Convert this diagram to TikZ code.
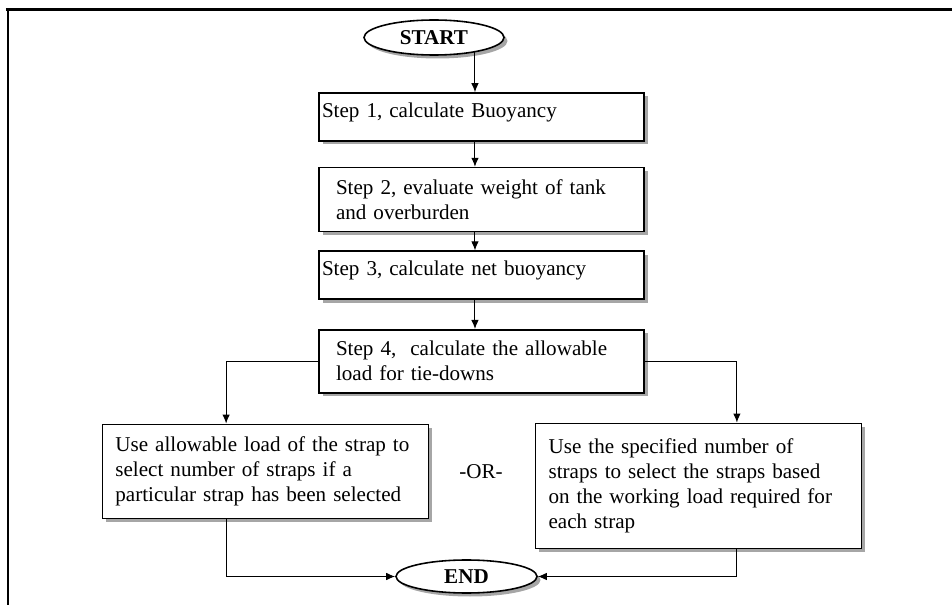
\documentclass[tikz,border=0pt]{standalone}
\usepackage{fontspec}
\setmainfont{Liberation Serif}
\usetikzlibrary{shapes.geometric, arrows.meta, positioning, calc, shadows}

\begin{document}
\begin{tikzpicture}[
    font=\fontsize{12}{14.2}\selectfont,
    boxshadow/.style={drop shadow={shadow xshift=0.07cm, shadow yshift=-0.07cm, fill=gray!70, opacity=1}},
    stepbox/.style={rectangle, draw, line width=0.9pt, fill=white, align=left, inner ysep=0pt, boxshadow},
    termnode/.style={ellipse, draw, line width=0.9pt, fill=white, inner sep=0pt, font=\fontsize{12}{14.2}\selectfont\bfseries, boxshadow},
    flow/.style={-{Latex[length=1.8mm, width=1.5mm]}, line width=0.55pt}]
    \useasboundingbox (0,0) rectangle (19.04,-12.1);

    % frame
    \draw[line width=1.7pt] (0.12,-0.19) -- (19.04,-0.19);
    \draw[line width=1.2pt] (0.165,-0.19) -- (0.165,-12.1);

    % main steps
    \node (start) [termnode, minimum width=2.8cm, minimum height=0.7cm] at (8.68,-0.75) {START};
    \node (step1) [stepbox, text width=6.38cm, inner xsep=0.06cm, minimum height=0.96cm, text depth=8pt] at (9.63,-2.34) {Step 1, calculate Buoyancy};
    \node (step2) [stepbox, text width=5.82cm, inner xsep=0.34cm, minimum height=1.28cm, below=0.5cm of step1] {Step 2, evaluate weight of tank\\and overburden};
    \node (step3) [stepbox, text width=6.38cm, inner xsep=0.06cm, minimum height=0.96cm, text depth=8pt, below=0.36cm of step2] {Step 3, calculate net buoyancy};
    \node (step4) [stepbox, text width=5.82cm, inner xsep=0.34cm, minimum height=1.26cm, below=0.58cm of step3] {Step 4,\ \ calculate the allowable\\load for tie-downs};

    % the two ways
    \node (strapload) [stepbox, text width=6.0cm, inner xsep=0.26cm, minimum height=1.88cm, below left=0.6cm and -2.22cm of step4] {Use allowable load of the strap to\\select number of straps if a\\particular strap has been selected};
    \node (strapnum) [stepbox, text width=6.0cm, inner xsep=0.26cm, minimum height=2.5cm, below right=0.58cm and -2.2cm of step4] {Use the specified number of\\straps to select the straps based\\on the working load required for\\each strap};
    \node (orlabel) at (9.62,-9.44) {-OR-};
    \node (stop) [termnode, minimum width=2.82cm, minimum height=0.66cm] at (9.33,-11.53) {END};

    % connectors
    \coordinate (spine) at (start.-20);
    \coordinate (lbranch) at ($(strapload.north west)!0.38!(strapload.north east)$);
    \coordinate (rbranch) at ($(strapnum.north west)!0.617!(strapnum.north east)$);
    \draw[flow] (spine) -- (spine |- step1.north);
    \draw[flow] (step1.south -| spine) -- (step2.north -| spine);
    \draw[flow] (step2.south -| spine) -- (step3.north -| spine);
    \draw[flow] (step3.south -| spine) -- (step4.north -| spine);
    \draw[flow] (step4.west) -| (lbranch);
    \draw[flow] (step4.east) -| (rbranch);
    \draw[flow] (strapload.south -| lbranch) |- (stop.west);
    \draw[flow] (strapnum.south -| rbranch) |- (stop.east);
\end{tikzpicture}
\end{document}
